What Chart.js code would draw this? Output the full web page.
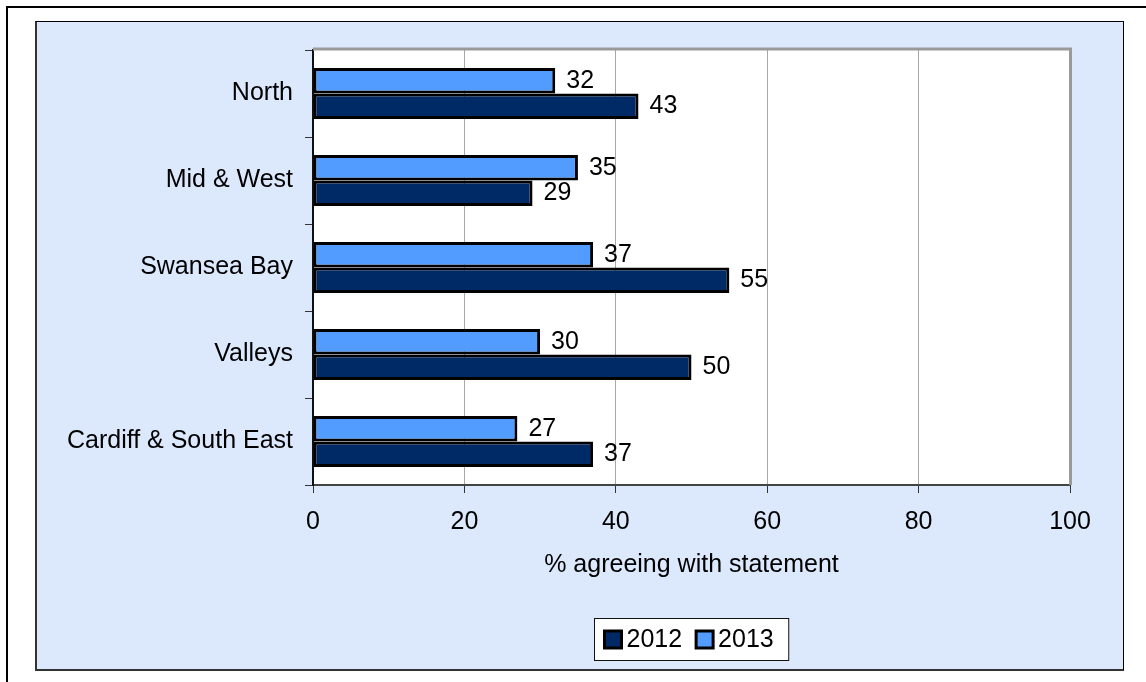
<!DOCTYPE html>
<html>
<head>
<meta charset="utf-8">
<script src="https://cdn.jsdelivr.net/npm/chart.js@4.4.1/dist/chart.umd.min.js"></script>
<style>
  html, body { margin: 0; padding: 0; background: #ffffff; width: 1146px; height: 682px; overflow: hidden; }
  #outer { position: absolute; left: 6px; top: 6px; width: 1200px; height: 800px; border-left: 2px solid #000; border-top: 2px solid #000; }
  #panel { position: absolute; left: 35px; top: 21px; width: 1086px; height: 647px; background: #dce9fd;
           border-top: 1px solid #000; border-right: 1px solid #000; border-left: 2px solid #333; border-bottom: 2px solid #333; }
  #c { position: absolute; left: 0; top: 0; }
</style>
</head>
<body>
<div id="outer"></div>
<div id="panel"></div>
<canvas id="c" width="1146" height="682"></canvas>
<script>
const categories = ["North", "Mid & West", "Swansea Bay", "Valleys", "Cardiff & South East"];
const values2012 = [43, 29, 55, 50, 37];
const values2013 = [32, 35, 37, 30, 27];
const seriesLabels = ["2012", "2013"];
const xTicks = [0, 20, 40, 60, 80, 100];
const axisTitle = "% agreeing with statement";

const FONT = '"Liberation Sans", Arial, sans-serif';
const FS = 25;
const C2012 = '#002a66';
const C2013 = '#539cff';

const plotBg = {
  id: 'plotBg',
  beforeDraw(chart) {
    const {ctx, chartArea: a} = chart;
    ctx.save();
    ctx.fillStyle = '#ffffff';
    ctx.fillRect(a.left, a.top, a.right - a.left, a.bottom - a.top);
    ctx.restore();
  },
  afterDraw(chart) {
    const {ctx, chartArea: a} = chart;
    ctx.save();
    ctx.strokeStyle = '#9a9a9a';
    ctx.lineWidth = 3;
    ctx.beginPath();
    ctx.moveTo(a.left, a.top - 1);
    ctx.lineTo(a.right + 0.5, a.top - 1);
    ctx.lineTo(a.right + 0.5, a.bottom);
    ctx.stroke();
    ctx.restore();
  }
};

const valueLabels = {
  id: 'valueLabels',
  afterDatasetsDraw(chart) {
    const ctx = chart.ctx;
    ctx.save();
    ctx.font = FS + 'px ' + FONT;
    ctx.fillStyle = '#000';
    ctx.textAlign = 'left';
    ctx.textBaseline = 'middle';
    chart.data.datasets.forEach((ds, i) => {
      const meta = chart.getDatasetMeta(i);
      meta.data.forEach((bar, j) => {
        ctx.fillText(String(ds.data[j]), bar.x + 11, bar.y);
      });
    });
    ctx.restore();
  }
};

const boxLegend = {
  id: 'boxLegend',
  afterDraw(chart) {
    const {ctx, chartArea: a} = chart;
    ctx.save();
    ctx.font = FS + 'px ' + FONT;
    const items = chart.data.datasets.slice().reverse();
    const sw = 17, gapText = 4, gapItem = 13, padL = 9, padR = 15;
    let total = padL + padR;
    items.forEach((ds, i) => {
      total += sw + 2 + gapText + ctx.measureText(ds.label).width;
      if (i < items.length - 1) total += gapItem;
    });
    const h = 42;
    const cx = (a.left + a.right) / 2;
    const left = Math.round(cx - total / 2) + 0.5;
    const top = a.bottom + 133.5;
    ctx.fillStyle = '#ffffff';
    ctx.fillRect(left, top, total, h);
    ctx.strokeStyle = '#111';
    ctx.lineWidth = 1;
    ctx.strokeRect(left, top, total, h);
    let x = left + padL;
    const cy = top + h / 2;
    items.forEach((ds) => {
      ctx.fillStyle = ds.backgroundColor;
      ctx.fillRect(x + 1, cy - sw / 2, sw, sw);
      ctx.strokeStyle = '#000';
      ctx.lineWidth = 3;
      ctx.strokeRect(x + 1, cy - sw / 2, sw, sw);
      x += sw + 2 + gapText;
      ctx.fillStyle = '#000';
      ctx.textAlign = 'left';
      ctx.textBaseline = 'middle';
      ctx.fillText(ds.label, x, cy + 1);
      x += ctx.measureText(ds.label).width + gapItem;
    });
    ctx.restore();
  }
};

new Chart(document.getElementById('c'), {
  type: 'bar',
  data: {
    labels: categories,
    datasets: [
      { label: seriesLabels[1], data: values2013, backgroundColor: C2013, borderColor: '#000', borderWidth: 3, borderSkipped: false },
      { label: seriesLabels[0], data: values2012, backgroundColor: C2012, borderColor: '#000', borderWidth: 3, borderSkipped: false }
    ]
  },
  options: {
    indexAxis: 'y',
    responsive: false,
    animation: false,
    devicePixelRatio: 1,
    layout: { padding: { left: 0, top: 50, right: 76, bottom: 92 } },
    datasets: { bar: { categoryPercentage: 0.586, barPercentage: 1.0 } },
    plugins: {
      legend: { display: false },
      tooltip: { enabled: false }
    },
    scales: {
      x: {
        type: 'linear',
        min: xTicks[0],
        max: xTicks[xTicks.length - 1],
        afterFit(scale) { scale.height = 105; },
        afterBuildTicks(scale) { scale.ticks = xTicks.map(v => ({ value: v })); },
        ticks: { color: '#000', font: { family: FONT, size: FS }, padding: 14, stepSize: 20 },
        grid: { color: '#a8a8a8', lineWidth: 1, tickColor: '#333', tickLength: 8, drawTicks: true },
        border: { color: '#444', width: 2 },
        title: { display: true, text: axisTitle, color: '#000', font: { family: FONT, size: FS }, padding: { top: 0, bottom: 10 } }
      },
      y: {
        afterFit(scale) { scale.width = 313; },
        ticks: { color: '#000', font: { family: FONT, size: FS }, padding: 12 },
        grid: { display: true, drawOnChartArea: false, offset: true, tickColor: '#333', tickLength: 8 },
        border: { color: '#111', width: 2 }
      }
    }
  },
  plugins: [plotBg, valueLabels, boxLegend]
});
</script>
</body>
</html>
